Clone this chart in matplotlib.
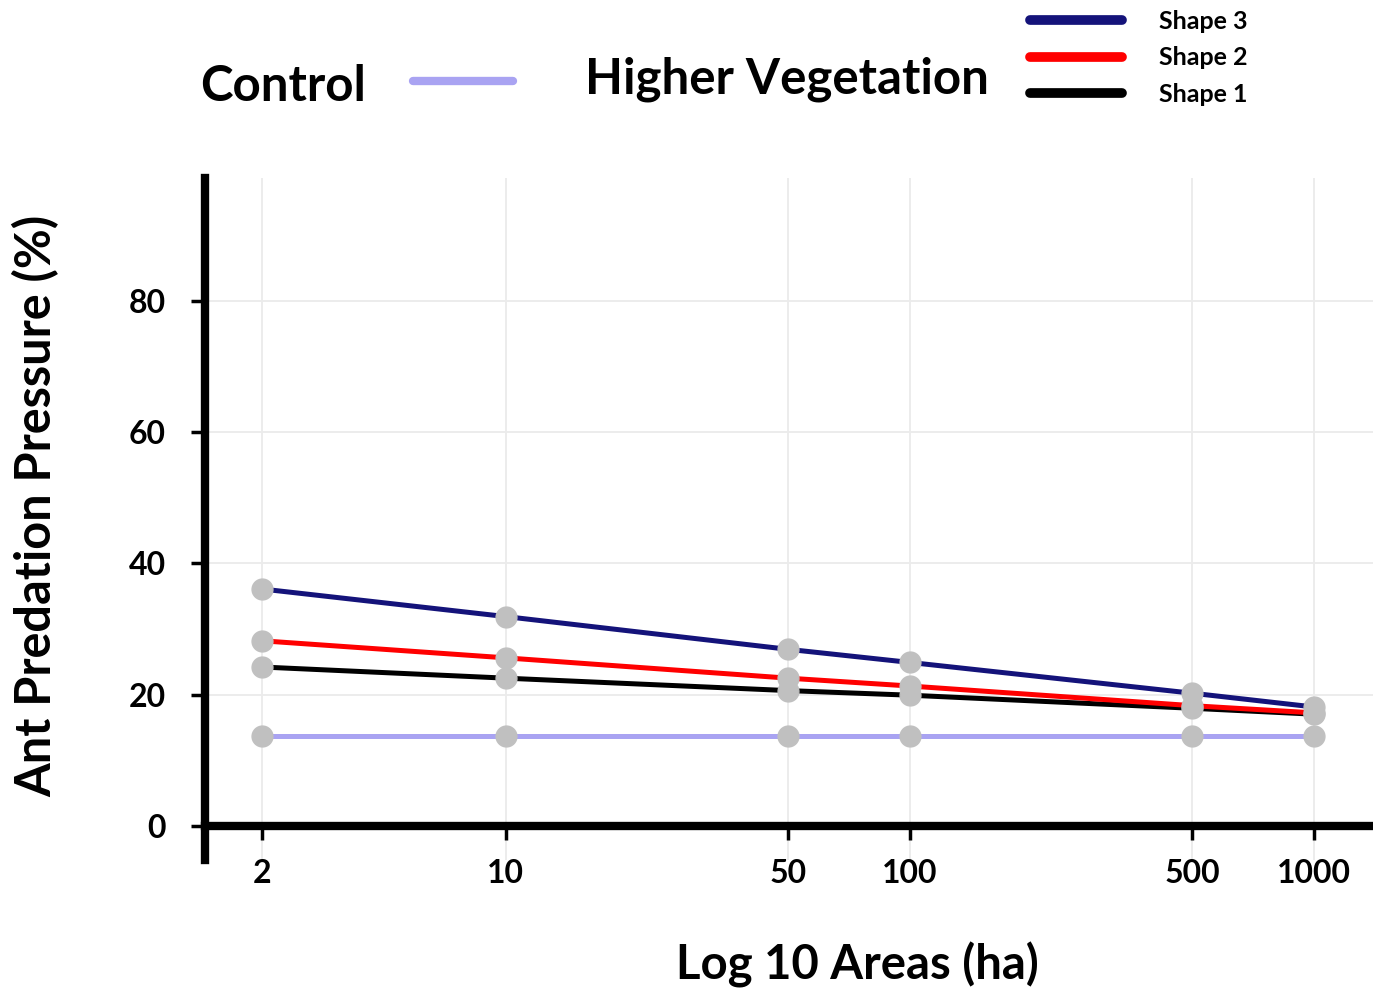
import matplotlib.pyplot as plt
from matplotlib.ticker import FixedLocator, NullLocator

# Data
areas = [2.5, 10, 50, 100, 500, 1000]
tick_labels = ["2", "10", "50", "100", "500", "1000"]
control = [13.6, 13.6, 13.6, 13.6, 13.6, 13.6]
shape1 = [24.2, 22.5, 20.6, 19.9, 17.9, 17.0]
shape2 = [28.2, 25.6, 22.5, 21.3, 18.3, 17.2]
shape3 = [36.1, 31.9, 26.9, 24.9, 20.2, 18.1]

plt.rcParams['font.family'] = ['Lato', 'DejaVu Sans']
plt.rcParams['font.weight'] = 'bold'
plt.rcParams['axes.labelweight'] = 'bold'

fig = plt.figure(figsize=(13.73, 9.9), dpi=100)
ax = fig.add_axes([0.149, 0.131, 0.851, 0.689])

lw = 3.6
ctrl_line, = ax.plot(areas, control, color='#a9a3f2', lw=lw, solid_capstyle='round')
s1_line, = ax.plot(areas, shape1, color='black', lw=lw, solid_capstyle='round')
s2_line, = ax.plot(areas, shape2, color='#ff0000', lw=lw, solid_capstyle='round')
s3_line, = ax.plot(areas, shape3, color='#14137a', lw=lw, solid_capstyle='round')

for series in (control, shape1, shape2, shape3):
    ax.plot(areas, series, ls='none', marker='o', ms=15, color='#c0c0c0', zorder=5)

ax.set_xscale('log')
ax.set_xlim(1.8, 1400)
ax.set_ylim(-5.3, 98.8)
ax.xaxis.set_major_locator(FixedLocator(areas))
ax.xaxis.set_minor_locator(NullLocator())
ax.set_xticklabels(tick_labels)
ax.set_yticks([0, 20, 40, 60, 80])

ax.grid(True, color='#ebebeb', lw=1.3)
ax.set_axisbelow(True)

for side in ('top', 'right'):
    ax.spines[side].set_visible(False)
ax.spines['left'].set_linewidth(6)
ax.spines['bottom'].set_linewidth(6)
ax.spines['bottom'].set_position(('data', 0))
ax.spines['bottom'].set_zorder(6)

ax.tick_params(axis='both', length=10, width=2.5, labelsize=23, color='black')
ax.tick_params(axis='x', pad=14)
ax.tick_params(axis='y', pad=18)

ax.set_ylabel("Ant Predation Pressure (%)", fontsize=35)
ax.yaxis.set_label_coords(-0.124, 0.52)
ax.set_xlabel("Log 10 Areas (ha)", fontsize=34)
ax.xaxis.set_label_coords(0.559, -0.119)

# Legend
fig.text(0.146, 0.913, "Control", fontsize=35.5, va='center', ha='left')
leg1 = fig.legend([ctrl_line], [""], loc='center left', bbox_to_anchor=(0.296, 0.917),
                  frameon=False, fontsize=10, handlelength=7.2, handletextpad=0, borderpad=0)
for h in leg1.get_lines():
    h.set_linewidth(6)
fig.text(0.426, 0.920, "Higher Vegetation", fontsize=35.5, va='center', ha='left')
leg2 = fig.legend([s3_line, s2_line, s1_line], ["Shape 3", "Shape 2", "Shape 1"],
                  loc='upper left', bbox_to_anchor=(0.741, 1.003), frameon=False,
                  fontsize=18, handlelength=3.7, handletextpad=1.45, labelspacing=0.55,
                  borderpad=0)
for h in leg2.get_lines():
    h.set_linewidth(7)

fig.savefig("out.png", dpi=100)
